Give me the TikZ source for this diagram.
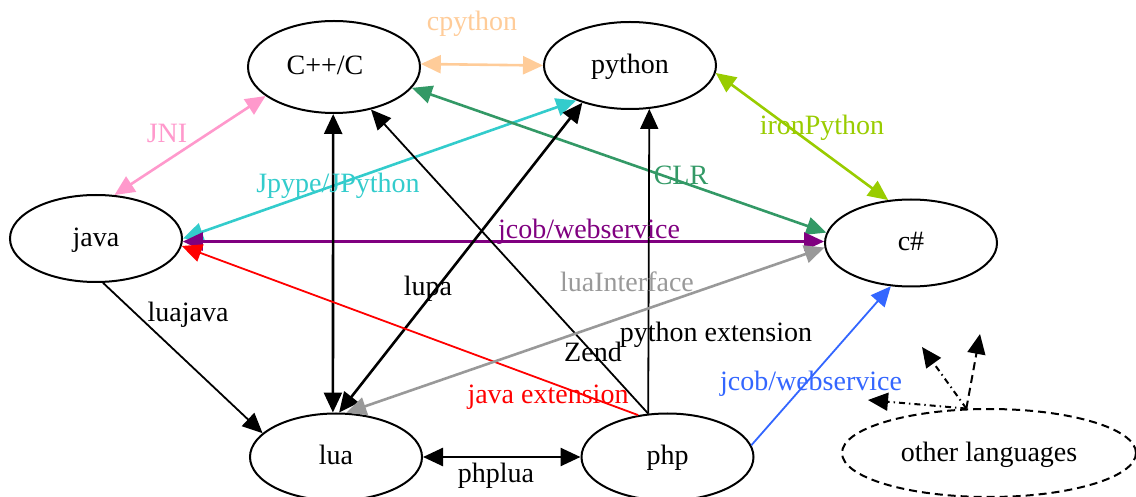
\documentclass[tikz,border=0pt]{standalone}
\usepackage{fontspec}
\setmainfont{Liberation Serif}
\usetikzlibrary{arrows.meta,shapes.geometric}
\definecolor{cpeach}{RGB}{255,204,153}
\definecolor{cpink}{RGB}{255,153,204}
\definecolor{ccyan}{RGB}{51,204,204}
\definecolor{cgreen}{RGB}{51,153,102}
\definecolor{cyg}{RGB}{153,204,0}
\definecolor{cpurple}{RGB}{128,0,128}
\definecolor{cgray}{RGB}{153,153,153}
\definecolor{cblue}{RGB}{51,102,255}
\begin{document}
\begin{tikzpicture}[x=0.5pt,y=-0.5pt,
  lang/.style={ellipse,draw,line width=1pt,inner sep=0pt,minimum width=86pt,minimum height=43.5pt,
    font=\fontsize{14}{16}\selectfont,text height=8pt,text depth=0pt},
  lbl/.style={anchor=base,inner sep=0pt,font=\fontsize{14}{16}\selectfont},
  edge/.style={line width=0.9pt},
  bedge/.style={line width=1.3pt},
  dashdotline/.style={line width=1pt,dash pattern=on 3pt off 2pt on 0.7pt off 2pt},
  dashline/.style={line width=1pt,dash pattern=on 4pt off 2.5pt},
  >={Triangle[length=10pt,width=9pt]}]
\useasboundingbox (0,0) rectangle (1136,497);
% nodes
\node[lang,minimum height=46pt] (cpp) at (334,67) {C++/C\kern9pt};
\node[lang] (py) at (630,65.5) {python};
\node[lang] (java) at (96,238.5) {java};
\node[lang] (cs) at (911,243) {c\#};
\node[lang] (lua) at (336,457) {lua};
\node[lang] (php) at (667.5,457) {php};
\node[lang,dashline,minimum width=147pt,minimum height=44pt] (other) at (989,453) {other languages};
\coordinate (o1) at (868,400);
\coordinate (o2) at (922,347);
\coordinate (o3) at (980,334);
% edges
\draw[bedge,cpeach,<->] (cpp.2) -- (py.180);
\draw[bedge,cpink,<->] (java.67) -- (cpp.203);
\draw[bedge,ccyan,<->] (java.0) -- (py.213);
\draw[bedge,cgreen,<->] (cpp.-15) -- (cs.173);
\draw[bedge,cyg,<->] (py.-5) -- (cs.118);
\draw[bedge,cpurple,<->] (java.-2) -- (cs.179);
\draw[bedge,<->] (cpp.269) -- (lua.94);
\draw[bedge,<->] (lua.86) -- (py.218);
\draw[edge,->] (php.114) -- (cpp.-49);
\draw[edge,->] (php.114) -- (py.-66);
\draw[edge,red,->] (php.125) -- (java.-5);
\draw[bedge,cgray,<->] (lua.77) -- (cs.183);
\draw[edge,->] (java.-81) -- (lua.162);
\draw[bedge,<->] (lua.0) -- (php.180);
\draw[edge,cblue,->] (php.8) -- (cs.245);
\draw[dashdotline,->] (other.117) -- (o1);
\draw[dashdotline,->] (other.117) -- (o2);
\draw[dashline,->] (other.117) -- (o3);
% labels
\node[lbl,text=cpeach] (lcpy) at (472,31) {cpython};
\node[lbl,text=cpink] (ljni) at (167,143) {JNI};
\node[lbl,text=ccyan] (ljp) at (338,193) {Jpype/JPython};
\node[lbl,text=cgreen] (lclr) at (681,185) {CLR};
\node[lbl,text=cyg] (liron) at (822,135) {ironPython};
\node[lbl,text=cpurple] (ljcob) at (589,239) {jcob/webservice};
\node[lbl] (llupa) at (428,296) {lupa};
\node[lbl] (lluaj) at (188,322) {luajava};
\node[lbl,text=cgray] (llint) at (627,292) {luaInterface};
\node[lbl] (lpyext) at (716,342) {python extension};
\node[lbl] (lzend) at (593,362) {Zend};
\node[lbl,text=red] (ljext) at (548,404) {java extension};
\node[lbl,text=cblue] (ljcob2) at (811,391) {jcob/webservice};
\node[lbl] (lphplua) at (496,482) {phplua};
\end{tikzpicture}
\end{document}
